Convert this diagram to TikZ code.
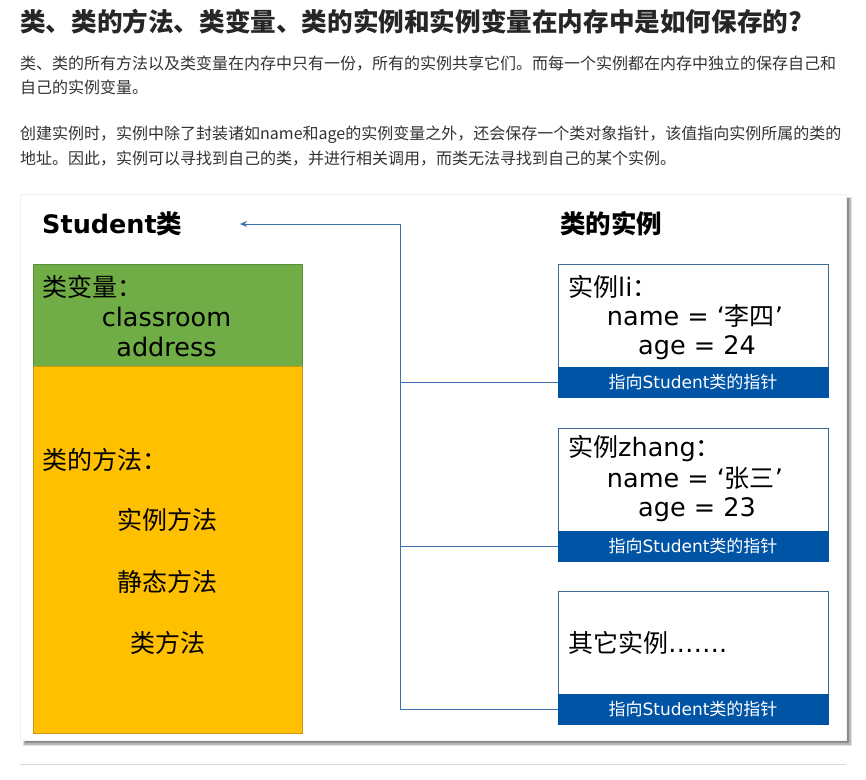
\documentclass[tikz,border=0pt]{standalone}
\usepackage{fontspec}
\setmainfont{DejaVu Sans}
\newfontfamily\cjk{Noto Sans CJK SC}
\newfontfamily\dv{DejaVu Sans}
\usetikzlibrary{arrows.meta}
\definecolor{titlecol}{HTML}{262626}
\definecolor{bodycol}{HTML}{333333}
\definecolor{greenfill}{HTML}{70AD47}
\definecolor{greenline}{HTML}{5B8F3A}
\definecolor{orangefill}{HTML}{FFC000}
\definecolor{orangeline}{HTML}{C79A10}
\definecolor{bandblue}{HTML}{0054A6}
\definecolor{boxline}{HTML}{3E6A96}
\definecolor{connblue}{HTML}{3C72AE}
\tikzset{
  headtitle/.style={anchor=west, inner sep=0pt, text=titlecol, font=\cjk\bfseries\fontsize{25.6}{30}\selectfont},
  bodyline/.style={anchor=west, inner sep=0pt, text=bodycol, font=\cjk\fontsize{16}{20}\selectfont},
  paneltitle/.style={anchor=west, inner sep=0pt, text=black, font=\bfseries\fontsize{25.5}{29}\selectfont},
  membox/.style={anchor=north west, inner sep=0pt, outer sep=0pt, minimum width=269pt, line width=0.8pt},
  instbox/.style={anchor=north west, inner sep=0pt, outer sep=0pt, minimum width=270pt, minimum height=103pt, draw=boxline, fill=white, line width=0.8pt},
  bandbox/.style={anchor=north west, inner sep=0pt, outer sep=0pt, minimum width=270pt, minimum height=30pt, fill=bandblue, draw=bandblue, text=white, font=\cjk\fontsize{17}{19}\selectfont},
  bigtxt/.style={inner sep=0pt, text=black, font=\fontsize{25.5}{29}\selectfont},
  cjktxt/.style={inner sep=0pt, text=black, font=\cjk\fontsize{25}{29}\selectfont},
  conn/.style={draw=connblue, line width=1pt},
}
\begin{document}
\begin{tikzpicture}[x=1pt,y=-1pt]
\useasboundingbox (0,0) rectangle (866,779);
\fill[white] (0,0) rectangle (866,779);

% header text
\node[headtitle] (title) at (20,22) {类、类的方法、类变量、类的实例和实例变量在内存中是如何保存的?};
\node[bodyline] (l1) at (20,64) {类、类的所有方法以及类变量在内存中只有一份，所有的实例共享它们。而每一个实例都在内存中独立的保存自己和};
\node[bodyline] (l2) at (20,87) {自己的实例变量。};
\node[bodyline] (l3) at (20,135) {创建实例时，实例中除了封装诸如name和age的实例变量之外，还会保存一个类对象指针，该值指向实例所属的类的};
\node[bodyline] (l4) at (20,159) {地址。因此，实例可以寻找到自己的类，并进行相关调用，而类无法寻找到自己的某个实例。};

% frame with shadow
\fill[black!12] (23,197) rectangle (852,746);
\fill[black!28] (24,198) rectangle (851,745);
\fill[black!45] (25,198) rectangle (849,743);
\filldraw[fill=white, draw=black!6] (20,194) rectangle (846,740);

% left panel
\node[paneltitle] (stu) at (42,224) {Student{\cjk 类}};
\node[membox, minimum height=102pt, fill=greenfill, draw=greenline] (cv) at (33,264) {};
\node[membox, minimum height=367pt, fill=orangefill, draw=orangeline] (cm) at (33,366) {};
\node[cjktxt, anchor=west] (cvt) at (42,287) {类变量：};
\node[bigtxt] (cv1) at (166.5,317) {classroom};
\node[bigtxt] (cv2) at (166.5,347) {address};
\node[cjktxt, anchor=west] (cmt) at (42,460) {类的方法：};
\node[cjktxt] (cm1) at (167.5,520) {实例方法};
\node[cjktxt] (cm2) at (167.5,582) {静态方法};
\node[cjktxt] (cm3) at (167.5,643) {类方法};

% right panel
\node[paneltitle, font=\cjk\bfseries\fontsize{25.5}{29}\selectfont] (inst) at (560,224) {类的实例};

\node[instbox] (b1) at (558,264) {};
\node[bandbox] (p1) at (558,367) {指向{\dv Student}类的指针};
\node[bigtxt, anchor=west] (b1a) at (568,287) {{\cjk\fontsize{25}{29}\selectfont 实例}li{\cjk\fontsize{25}{29}\selectfont ：}};
\node[bigtxt] (b1b) at (695,316) {name = ‘{\cjk\fontsize{25}{29}\selectfont 李四}’};
\node[bigtxt] (b1c) at (697,348) {age = 24};

\node[instbox] (b2) at (558,428) {};
\node[bandbox] (p2) at (558,531) {指向{\dv Student}类的指针};
\node[bigtxt, anchor=west] (b2a) at (568,449) {{\cjk\fontsize{25}{29}\selectfont 实例}zhang{\cjk\fontsize{25}{29}\selectfont ：}};
\node[bigtxt] (b2b) at (695,478) {name = ‘{\cjk\fontsize{25}{29}\selectfont 张三}’};
\node[bigtxt] (b2c) at (697,510) {age = 23};

\node[instbox] (b3) at (558,591) {};
\node[bandbox] (p3) at (558,694) {指向{\dv Student}类的指针};
\node[bigtxt, anchor=west] (b3a) at (568,643) {{\cjk\fontsize{25}{29}\selectfont 其它实例}…….};

% connectors
\coordinate (trunk) at (400,224);
\coordinate (tip) at (240,224);
\draw[conn, -{Stealth[length=7pt,width=6pt]}] (p3.west) -| (trunk) -- (tip);
\draw[conn] (p1.west) -- (p1.west -| trunk);
\draw[conn] (p2.west) -- (p2.west -| trunk);

% separator
\draw[black!15, line width=0.8pt] (20,764) -- (846,764);
\end{tikzpicture}
\end{document}
